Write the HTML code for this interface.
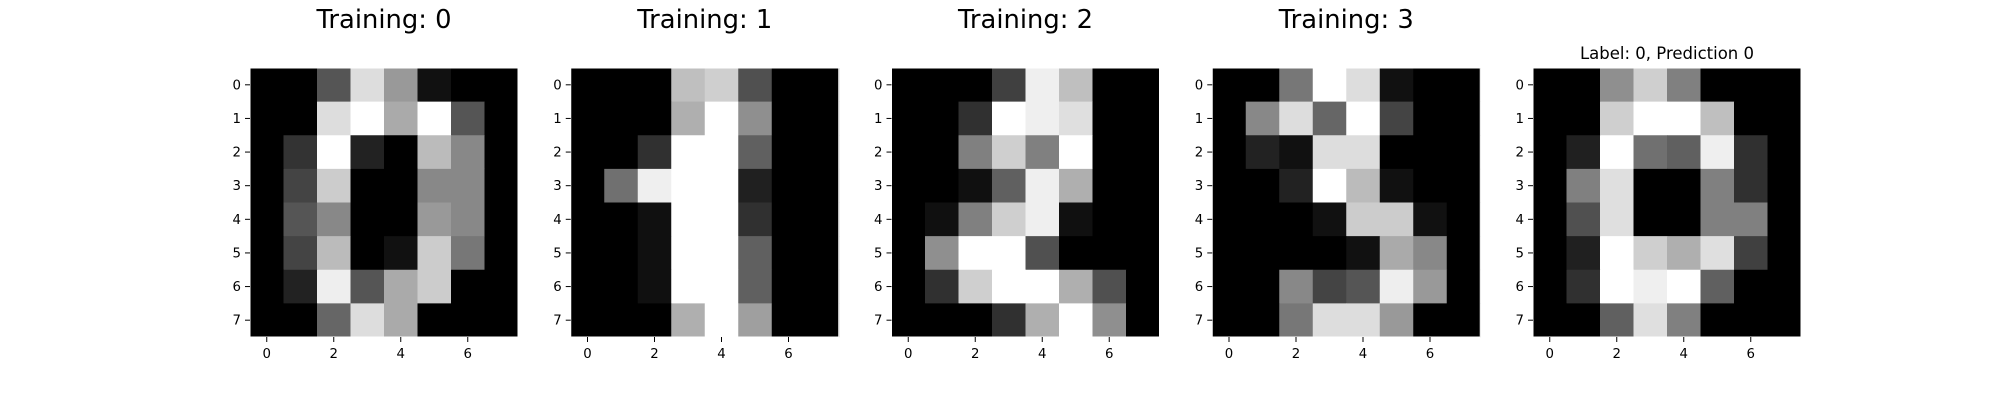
<!DOCTYPE html>
<html><head><meta charset="utf-8"><style>
html,body{margin:0;padding:0;background:#fff;}
svg{display:block;font-family:"DejaVu Sans","Liberation Sans",sans-serif;}
</style></head><body>
<svg id="fig" width="2000" height="400" viewBox="0 0 2000 400" xmlns="http://www.w3.org/2000/svg"></svg>
<script>
const titles = ["Training: 0","Training: 1","Training: 2","Training: 3","Label: 0, Prediction 0"];
const img0 = [[0,0,5,13,9,1,0,0],[0,0,13,15,10,15,5,0],[0,3,15,2,0,11,8,0],[0,4,12,0,0,8,8,0],[0,5,8,0,0,9,8,0],[0,4,11,0,1,12,7,0],[0,2,14,5,10,12,0,0],[0,0,6,13,10,0,0,0]];
const img1 = [[0,0,0,12,13,5,0,0],[0,0,0,11,16,9,0,0],[0,0,3,16,16,6,0,0],[0,7,15,16,16,2,0,0],[0,0,1,16,16,3,0,0],[0,0,1,16,16,6,0,0],[0,0,1,16,16,6,0,0],[0,0,0,11,16,10,0,0]];
const img2 = [[0,0,0,4,15,12,0,0],[0,0,3,16,15,14,0,0],[0,0,8,13,8,16,0,0],[0,0,1,6,15,11,0,0],[0,1,8,13,15,1,0,0],[0,9,16,16,5,0,0,0],[0,3,13,16,16,11,5,0],[0,0,0,3,11,16,9,0]];
const img3 = [[0,0,7,15,13,1,0,0],[0,8,13,6,15,4,0,0],[0,2,1,13,13,0,0,0],[0,0,2,15,11,1,0,0],[0,0,0,1,12,12,1,0],[0,0,0,0,1,10,8,0],[0,0,8,4,5,14,9,0],[0,0,7,13,13,9,0,0]];
const img4 = [[0,0,9,13,8,0,0,0],[0,0,13,16,16,12,0,0],[0,2,16,7,6,15,3,0],[0,8,14,0,0,8,3,0],[0,5,14,0,0,8,8,0],[0,2,16,13,11,14,4,0],[0,3,16,15,16,6,0,0],[0,0,6,14,8,0,0,0]];
const images = [img0,img1,img2,img3,img4];
const xTicks = [0,2,4,6];
const yTicks = [0,1,2,3,4,5,6,7];

const NS="http://www.w3.org/2000/svg";
const svg=document.getElementById('fig');
function mk(tag,attrs,parent){const e=document.createElementNS(NS,tag);for(const k in attrs)e.setAttribute(k,attrs[k]);(parent||svg).appendChild(e);return e;}
const AX_TOP=68, AX_H=269, AX_W=268, LEFT0=250, STEP=320.75;
images.forEach((img,p)=>{
  const left=LEFT0+p*STEP;
  const g=mk('g',{});
  
  
  const cw=AX_W/8, ch=AX_H/8;
  const sx=v=>left+(v+0.5)*cw;
  const sy=v=>AX_TOP+(v+0.5)*ch;
  let mn=Infinity,mx=-Infinity;
  img.forEach(r=>r.forEach(v=>{mn=Math.min(mn,v);mx=Math.max(mx,v);}));
  img.forEach((row,r)=>row.forEach((v,c)=>{
    const gv=Math.round((v-mn)/(mx-mn)*255);
    const rc=mk('rect',{x:sx(c)-cw/2,y:sy(r)-ch/2,width:cw+0.4,height:ch+0.4,fill:`rgb(${gv},${gv},${gv})`},g);
    
    
  }));
  const fr=mk('rect',{x:left,y:AX_TOP,width:AX_W,height:AX_H,fill:'none',stroke:'#fff',"stroke-width":1},g);
  
  
  yTicks.forEach(t=>{
    mk('line',{x1:left-5,x2:left,y1:sy(t),y2:sy(t),stroke:'#000',"stroke-width":1},g);
    const tx=mk('text',{x:left-9,y:sy(t)+4.5,"font-size":13.3,"text-anchor":"end",fill:'#000'},g);
    tx.textContent=t;
    
    
  });
  xTicks.forEach(t=>{
    mk('line',{x1:sx(t),x2:sx(t),y1:AX_TOP+AX_H,y2:AX_TOP+AX_H+5,stroke:'#000',"stroke-width":1},g);
    const tx=mk('text',{x:sx(t),y:AX_TOP+AX_H+21,"font-size":13.3,"text-anchor":"middle",fill:'#000'},g);
    tx.textContent=t;
    
    
  });
  const big=p<4;
  const tt=mk('text',{x:left+AX_W/2,y:big?28:59,"font-size":big?25.8:16.5,"text-anchor":"middle",fill:'#000'},g);
  tt.textContent=titles[p];
  
  
});
</script>
</body></html>
